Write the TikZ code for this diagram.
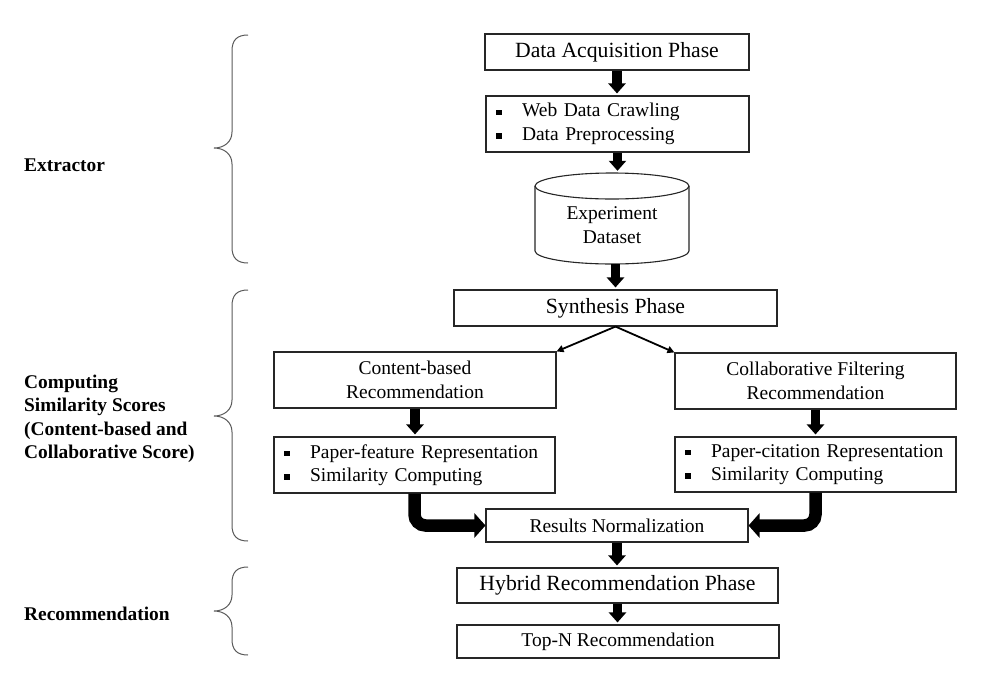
\documentclass[tikz,border=0pt]{standalone}
\usepackage{fontspec}
\setmainfont{Liberation Serif}
\usetikzlibrary{arrows.meta}
\newcommand{\bitem}{\makebox[26pt][l]{\rule[1.7pt]{5.5pt}{5.5pt}}}
\begin{document}
\begin{tikzpicture}[x=1pt,y=-1pt,
  box/.style={draw=black!85, line width=1.1pt, inner sep=0pt, fill=white},
  big/.style={font=\fontsize{21.7}{26}\selectfont},
  norm/.style={font=\fontsize{19.5}{23.5}\selectfont},
  lab/.style={font=\bfseries\fontsize{19.4}{23.5}\selectfont, inner sep=0pt, anchor=west, align=left},
  listbox/.style={box, norm, align=left, inner xsep=10pt, text width=#1},
  blk/.style={line width=9.5pt, -{Triangle[width=17pt,length=10pt]}, shorten >=2pt},
  curv/.style={line width=12.5pt, rounded corners=11pt, -{Triangle[width=24pt,length=11pt]}},
  thinarr/.style={line width=1.8pt, -{Triangle[width=7pt,length=7pt]}},
  bracestyle/.style={draw=black!65, line width=1pt}
]
\useasboundingbox (0,0) rectangle (997,686);

% top chain
\node[box,big,minimum width=264pt,minimum height=36pt] (acq) at (617,52) {Data Acquisition Phase};
\node[listbox=243pt, minimum height=56pt] (web) at (617.5,124) {\bitem Web Data Crawling\\\bitem Data Preprocessing};

% cylinder
\node[minimum width=154pt, minimum height=91pt, inner sep=0pt] (ds) at (612,218.5) {};
\draw[line width=1.1pt, draw=black!85, fill=white] (535,186) -- (535,251) arc[start angle=180, end angle=0, x radius=77, y radius=13] -- (689,186);
\draw[line width=1.1pt, draw=black!85] (612,186) ellipse [x radius=77, y radius=13];
\node[norm, align=center, inner sep=0pt] (dstext) at (612,225) {Experiment\\Dataset};

\node[box,big,minimum width=323pt,minimum height=36pt] (syn) at (615.5,308) {Synthesis Phase};

\node[box,norm,align=center,minimum width=282pt,minimum height=56pt] (cb) at (415,380) {Content-based\\Recommendation};
\node[box,norm,align=center,minimum width=281pt,minimum height=56pt] (cf) at (815.5,381) {Collaborative Filtering\\Recommendation};

\node[listbox=261pt, minimum height=56pt] (pf) at (414.5,465) {\bitem Paper-feature Representation\\\bitem Similarity Computing};
\node[listbox=261pt, minimum height=55pt] (pc) at (815.5,464.5) {\bitem Paper-citation Representation\\\bitem Similarity Computing};

\node[box,norm,minimum width=262pt,minimum height=33pt] (res) at (617,525.5) {Results Normalization};
\node[box,big,minimum width=321pt,minimum height=35pt] (hyb) at (617.5,585.5) {Hybrid Recommendation Phase};
\node[box,norm,minimum width=322pt,minimum height=33pt] (top) at (618,641.5) {Top-N Recommendation};

% arrows
\draw[blk] (acq.south) -- (acq.south |- web.north);
\draw[blk] (web.south) -- (web.south |- ds.north);
\draw[blk] (syn.north |- ds.south) -- (syn.north);
\draw[thinarr] (syn.south) -- (cb.north east);
\draw[thinarr] (syn.south) -- (cf.north west);
\draw[blk] (cb.south) -- (cb.south |- pf.north);
\draw[blk] (cf.south) -- (cf.south |- pc.north);
\draw[curv] (pf.south) |- (res.west);
\draw[curv] (pc.south) |- (res.east);
\draw[blk] (res.south) -- (res.south |- hyb.north);
\draw[blk] (hyb.south) -- (hyb.south |- top.north);

% braces
\draw[bracestyle] (248,35) .. controls (237,35) and (232,40) .. (232,51) -- (232,132) .. controls (232,142) and (224,148) .. (214,148) .. controls (224,148) and (232,154) .. (232,164) -- (232,247) .. controls (232,258) and (237,263) .. (248,263);
\draw[bracestyle] (248,290) .. controls (237,290) and (232,295) .. (232,306) -- (232,400) .. controls (232,410) and (224,416) .. (214,416) .. controls (224,416) and (232,422) .. (232,432) -- (232,525) .. controls (232,536) and (237,541) .. (248,541);
\draw[bracestyle] (248,567) .. controls (237,567) and (232,572) .. (232,583) -- (232,595) .. controls (232,605) and (224,611) .. (214,611) .. controls (224,611) and (232,617) .. (232,627) -- (232,639) .. controls (232,650) and (237,655) .. (248,655);

% labels
\node[lab] (l1) at (24,165) {Extractor};
\node[lab] (l2) at (24,418.7) {Computing\\Similarity Scores\\(Content-based and\\Collaborative Score)};
\node[lab] (l3) at (24,614) {Recommendation};
\end{tikzpicture}
\end{document}
